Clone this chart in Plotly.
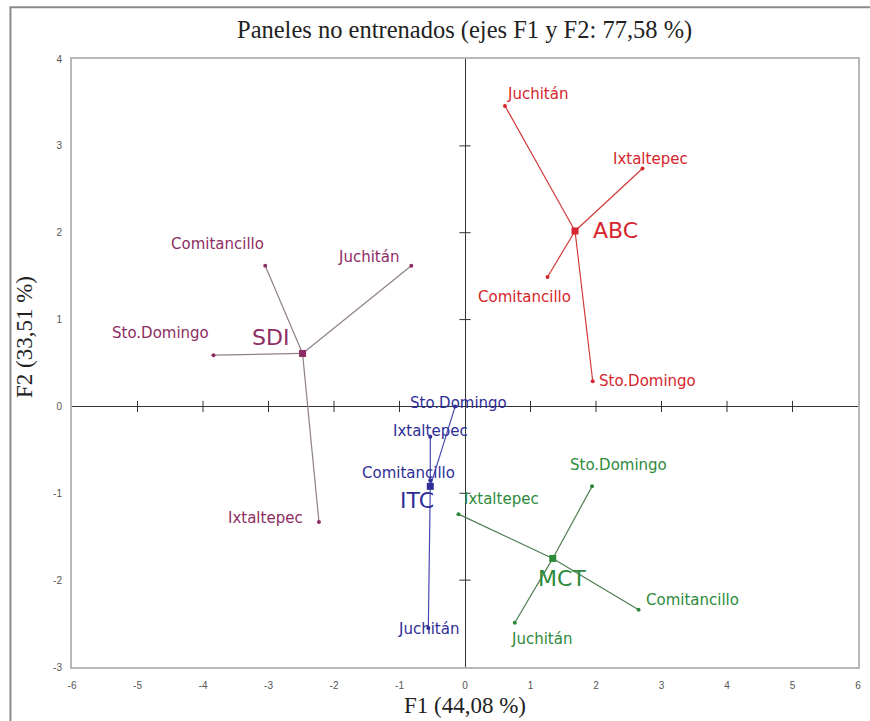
import plotly.graph_objects as go

# ---- data ----
groups = ["ABC", "SDI", "ITC", "MCT"]
sites = ["Juchitán", "Ixtaltepec", "Comitancillo", "Sto.Domingo"]

center_x = [1.68, -2.48, -0.53, 1.34]
center_y = [2.02, 0.61, -0.92, -1.75]

# site coordinates per group, in order of `sites`
abc_x = [0.61, 2.71, 1.26, 1.95]
abc_y = [3.46, 2.74, 1.49, 0.29]
sdi_x = [-0.82, -2.23, -3.05, -3.84]
sdi_y = [1.62, -1.33, 1.62, 0.59]
itc_x = [-0.56, -0.53, -0.53, -0.15]
itc_y = [-2.55, -0.35, -0.85, 0.00]
mct_x = [0.76, -0.10, 2.65, 1.94]
mct_y = [-2.49, -1.24, -2.34, -0.92]

x_ticks = [-6, -5, -4, -3, -2, -1, 0, 1, 2, 3, 4, 5, 6]
y_ticks = [-3, -2, -1, 0, 1, 2, 3, 4]

title_text = "Paneles no entrenados (ejes F1 y F2: 77,58 %)"
x_title = "F1 (44,08 %)"
y_title = "F2 (33,51 %)"

# ---- styles ----
text_colors = {"ABC": "#d4262c", "SDI": "#8e2d63", "ITC": "#2e2e96", "MCT": "#2d8a3a"}
line_colors = {"ABC": "#d23a3a", "SDI": "#8f8089", "ITC": "#4848b0", "MCT": "#4f7d52"}

# label pixel shifts (x, y-up) for sites in order of `sites`, then group label
site_shift = {
    "ABC": [(33, 12), (8, 9), (-23, -20), (55, 0)],
    "SDI": [(-43, 9), (-53, 4), (-48, 22), (-53, 22)],
    "ITC": [(0, -1), (0, 6), (-22, 7), (3, 3)],
    "MCT": [(27, -16), (43, 15), (54, 10), (26, 21)],
}
group_shift = {"ABC": (40, 0), "SDI": (-32, 16), "ITC": (-13, -14), "MCT": (9, -20)}

site_xy = {
    "ABC": (abc_x, abc_y),
    "SDI": (sdi_x, sdi_y),
    "ITC": (itc_x, itc_y),
    "MCT": (mct_x, mct_y),
}

fig = go.Figure()
annotations = []
label_font = "DejaVu Sans"

# tick marks on the zero lines
inner_x = [t for t in x_ticks if t not in (0, x_ticks[0], x_ticks[-1])]
inner_y = [t for t in y_ticks if t not in (0, y_ticks[0], y_ticks[-1])]
fig.add_trace(go.Scatter(
    x=inner_x, y=[0] * len(inner_x), mode="markers", hoverinfo="skip",
    marker=dict(symbol="line-ns", size=8, line=dict(width=1, color="#333333")),
))
fig.add_trace(go.Scatter(
    x=[0] * len(inner_y), y=inner_y, mode="markers", hoverinfo="skip",
    marker=dict(symbol="line-ew", size=8, line=dict(width=1, color="#333333")),
))

for gi, g in enumerate(groups):
    cx, cy = center_x[gi], center_y[gi]
    xs, ys = site_xy[g]
    # spokes
    lx, ly = [], []
    for sx, sy in zip(xs, ys):
        lx += [cx, sx, None]
        ly += [cy, sy, None]
    fig.add_trace(go.Scatter(x=lx, y=ly, mode="lines",
                             line=dict(color=line_colors[g], width=1.2),
                             hoverinfo="skip"))
    # site points
    fig.add_trace(go.Scatter(x=xs, y=ys, mode="markers",
                             marker=dict(size=4, color=text_colors[g]),
                             hoverinfo="skip"))
    # centroid
    fig.add_trace(go.Scatter(x=[cx], y=[cy], mode="markers",
                             marker=dict(size=7, symbol="square", color=text_colors[g]),
                             hoverinfo="skip"))
    for si, s in enumerate(sites):
        dx, dy = site_shift[g][si]
        annotations.append(dict(
            x=xs[si], y=ys[si], xref="x", yref="y", text=s, showarrow=False,
            xshift=dx, yshift=dy, xanchor="center", yanchor="middle",
            font=dict(family=label_font, size=15, color=text_colors[g]),
        ))
    gdx, gdy = group_shift[g]
    annotations.append(dict(
        x=cx, y=cy, xref="x", yref="y", text=g, showarrow=False,
        xshift=gdx, yshift=gdy, xanchor="center", yanchor="middle",
        font=dict(family=label_font, size=22, color=text_colors[g]),
    ))

serif = "Liberation Serif"
annotations.append(dict(text=title_text, xref="paper", yref="paper", x=0.4998, y=1.048,
                        showarrow=False, xanchor="center", yanchor="middle",
                        font=dict(family=serif, size=24.5, color="#222222")))
annotations.append(dict(text=x_title, xref="paper", yref="paper", x=0.5, y=-0.0625,
                        showarrow=False, xanchor="center", yanchor="middle",
                        font=dict(family=serif, size=23, color="#222222")))
annotations.append(dict(text=y_title, xref="paper", yref="paper", x=-0.0596, y=0.543,
                        showarrow=False, xanchor="center", yanchor="middle", textangle=-90,
                        font=dict(family=serif, size=23, color="#222222")))

axis_common = dict(
    showgrid=False, zeroline=True, zerolinecolor="#333333", zerolinewidth=1,
    showline=True, mirror=True, linecolor="#b8b8b8", linewidth=2,
    ticks="", tickfont=dict(family="Liberation Sans", size=10, color="#555555"),
    fixedrange=True,
)

fig.update_layout(
    width=870, height=721,
    margin=dict(l=72, r=9, t=59, b=54),
    paper_bgcolor="white", plot_bgcolor="white",
    showlegend=False,
    xaxis=dict(range=[-6, 6], tickvals=x_ticks, ticktext=[str(t) for t in x_ticks],
               ticklabelstandoff=8, **axis_common),
    yaxis=dict(range=[-3, 4], tickvals=y_ticks, ticktext=[str(t) for t in y_ticks],
               ticklabelstandoff=6, **axis_common),
    annotations=annotations,
    shapes=[dict(type="rect", xref="paper", yref="paper",
                 x0=-0.0783, y0=-0.3, x1=1.2, y1=1.085,
                 line=dict(color="#8a8a8a", width=2), layer="below")],
)

fig.write_html("out.html")
